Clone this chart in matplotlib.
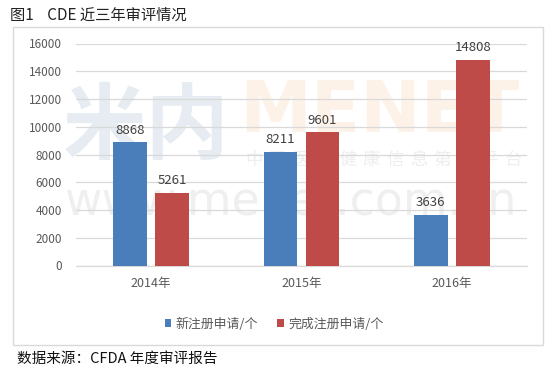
import matplotlib
matplotlib.use('Agg')
import matplotlib.pyplot as plt
import numpy as np
from matplotlib.patches import Rectangle, Patch

plt.rcParams['font.family'] = ['Noto Sans CJK SC', 'DejaVu Sans']

# ---- data ----
categories = ['2014年', '2015年', '2016年']
new_apps = [8868, 8211, 3636]
done_apps = [5261, 9601, 14808]
series_names = ['新注册申请/个', '完成注册申请/个']
yticks = [0, 2000, 4000, 6000, 8000, 10000, 12000, 14000, 16000]
title = '图1    CDE 近三年审评情况'
source = '数据来源：CFDA 年度审评报告'

BLUE = '#4a7ebb'
RED = '#be4b48'
GRID = '#d9d9d9'
TXT = '#595959'

W, H = 550, 371
fig = plt.figure(figsize=(W / 100, H / 100), dpi=100)


def fx(px):
    return px / W


def fy(py):
    return 1 - py / H


# chart frame
fig.patches.append(Rectangle((fx(13), fy(345)), fx(543 - 13), (345 - 27) / H,
                             transform=fig.transFigure, fill=False,
                             edgecolor=GRID, lw=1.0, zorder=0))

# faint watermark (behind the plot)
fig.text(fx(145), fy(128), '米内', fontsize=60, fontweight='bold', color='#e6ecf2',
         ha='center', va='center', zorder=-1)
fig.text(fx(380), fy(113), 'MENET', fontsize=52, fontweight='bold', color='#fdf2e7',
         ha='center', va='center', zorder=-1, family='DejaVu Sans')
wm_chars = '中国医药健康信息第一平台'
for i, ch in enumerate(wm_chars):
    fig.text(fx(254 + i * 23.5), fy(160), ch, fontsize=12.5, color='#eeeeee',
             ha='center', va='center', zorder=-1)
fig.text(fx(290), fy(203), 'www.menet.com.cn', fontsize=33, color='#efefef',
         ha='center', va='center', zorder=-1, family='DejaVu Sans')

ax = fig.add_axes([fx(76), fy(265.5), fx(527 - 76), (265.5 - 43.5) / H])
ax.set_facecolor('none')

x = np.arange(len(categories))
bw = 0.225
off = 0.14
b1 = ax.bar(x - off, new_apps, bw, color=BLUE, zorder=3, label=series_names[0])
b2 = ax.bar(x + off, done_apps, bw, color=RED, zorder=3, label=series_names[1])
ax.bar_label(b1, padding=4, fontsize=9.5, color='#404040')
ax.bar_label(b2, padding=4, fontsize=9.5, color='#404040')

ax.set_xlim(-0.5, len(categories) - 0.5)
ax.set_ylim(0, 16000)
ax.set_yticks(yticks)
ax.set_yticklabels([str(v) for v in yticks])
ax.set_xticks(x)
ax.set_xticklabels(categories)
ax.yaxis.grid(True, color=GRID, lw=0.9, zorder=0)
ax.set_axisbelow(True)
for s in ['top', 'right', 'left']:
    ax.spines[s].set_visible(False)
ax.spines['bottom'].set_color(GRID)
ax.spines['bottom'].set_linewidth(0.9)
ax.tick_params(axis='y', length=0, pad=10, labelsize=8.5, labelcolor=TXT)
ax.tick_params(axis='x', length=0, pad=8, labelsize=9, labelcolor=TXT)

handles = [Patch(facecolor=BLUE), Patch(facecolor=RED)]
fig.legend(handles, series_names, loc='center', bbox_to_anchor=(fx(274), fy(324)),
           ncol=2, frameon=False, handlelength=0.5, handleheight=0.5,
           handletextpad=0.35, columnspacing=1.5, fontsize=9.3, labelcolor=TXT,
           borderaxespad=0, borderpad=0)

fig.text(fx(10), fy(15), title, fontsize=11, color='#222222', ha='left', va='center')
fig.text(fx(17), fy(359), source, fontsize=10.5, color='#111111', ha='left', va='center')

fig.savefig('out.png', dpi=100)
